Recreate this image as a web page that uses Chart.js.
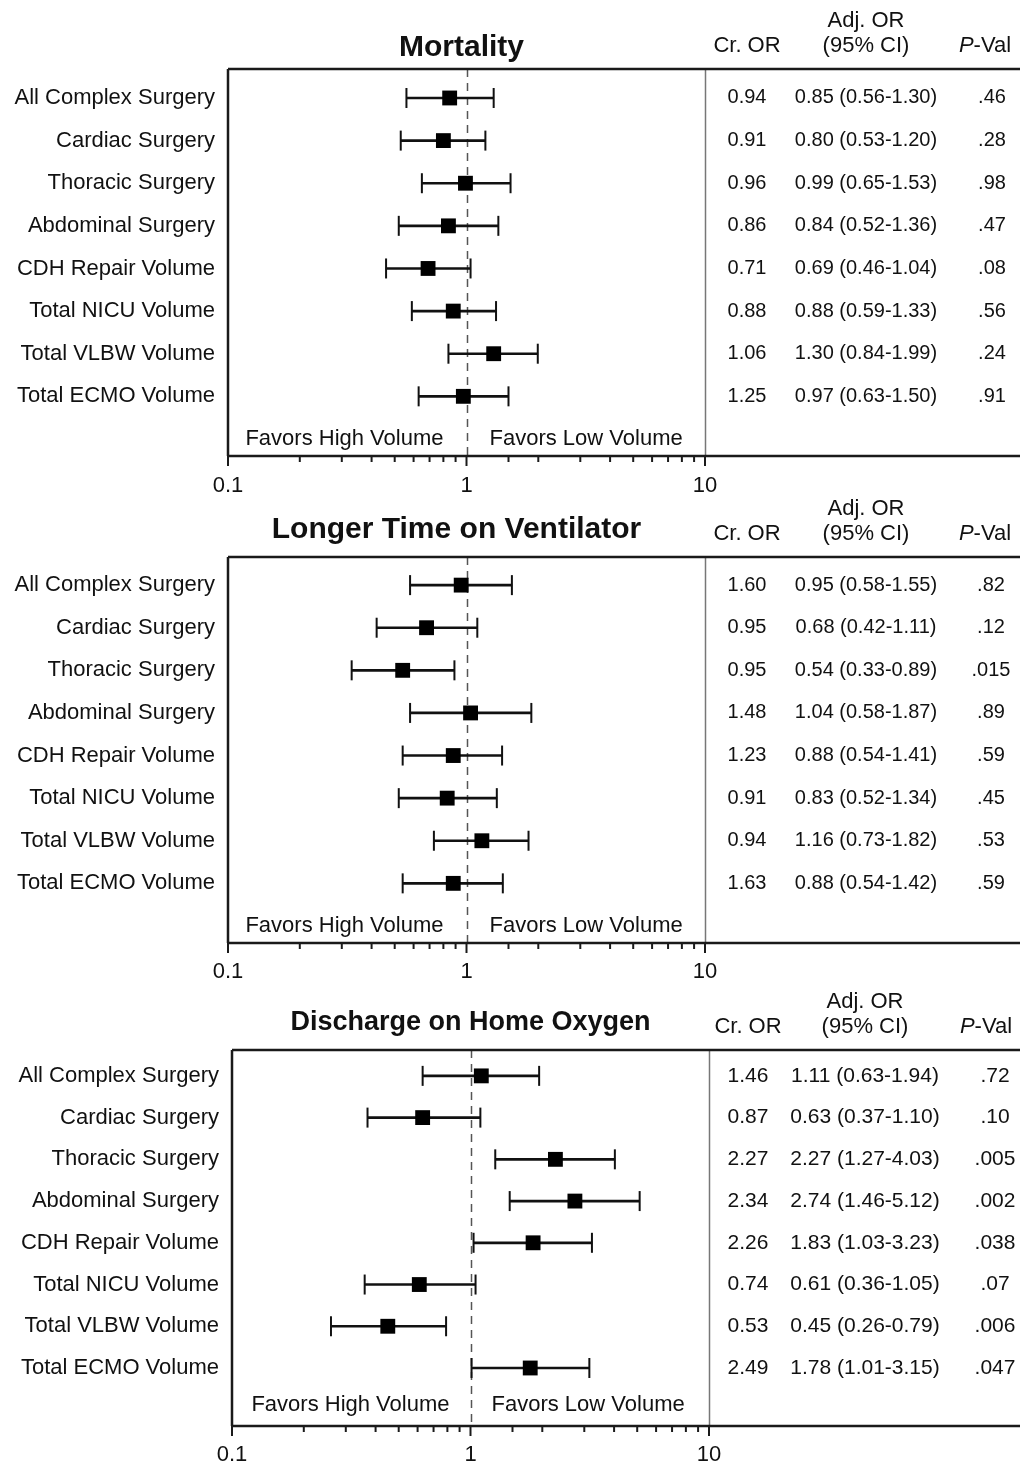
<!DOCTYPE html>
<html>
<head>
<meta charset="utf-8">
<script src="https://cdn.jsdelivr.net/npm/chart.js@4.4.1/dist/chart.umd.min.js"></script>
<style>
  body { margin: 0; background: #fff; }
  canvas { display: block; }
</style>
</head>
<body>
<canvas id="mortality" width="1020" height="498"></canvas>
<canvas id="ventilator" width="1020" height="487"></canvas>
<canvas id="oxygen" width="1020" height="481"></canvas>
<script>
// rows, same for all three panels
const categories = ['All Complex Surgery', 'Cardiac Surgery', 'Thoracic Surgery', 'Abdominal Surgery',
  'CDH Repair Volume', 'Total NICU Volume', 'Total VLBW Volume', 'Total ECMO Volume'];
const axisLabels = ['0.1', '1', '10'];

// Mortality
const mortCrude = [0.94, 0.91, 0.96, 0.86, 0.71, 0.88, 1.06, 1.25];
const mortAdj   = [0.85, 0.80, 0.99, 0.84, 0.69, 0.88, 1.30, 0.97];
const mortLow   = [0.56, 0.53, 0.65, 0.52, 0.46, 0.59, 0.84, 0.63];
const mortHigh  = [1.30, 1.20, 1.53, 1.36, 1.04, 1.33, 1.99, 1.50];
const mortP     = ['.46', '.28', '.98', '.47', '.08', '.56', '.24', '.91'];

// Longer time on ventilator
const ventCrude = [1.60, 0.95, 0.95, 1.48, 1.23, 0.91, 0.94, 1.63];
const ventAdj   = [0.95, 0.68, 0.54, 1.04, 0.88, 0.83, 1.16, 0.88];
const ventLow   = [0.58, 0.42, 0.33, 0.58, 0.54, 0.52, 0.73, 0.54];
const ventHigh  = [1.55, 1.11, 0.89, 1.87, 1.41, 1.34, 1.82, 1.42];
const ventP     = ['.82', '.12', '.015', '.89', '.59', '.45', '.53', '.59'];

// Discharge on home oxygen
const oxyCrude = [1.46, 0.87, 2.27, 2.34, 2.26, 0.74, 0.53, 2.49];
const oxyAdj   = [1.11, 0.63, 2.27, 2.74, 1.83, 0.61, 0.45, 1.78];
const oxyLow   = [0.63, 0.37, 1.27, 1.46, 1.03, 0.36, 0.26, 1.01];
const oxyHigh  = [1.94, 1.10, 4.03, 5.12, 3.23, 1.05, 0.79, 3.15];
const oxyP     = ['.72', '.10', '.005', '.002', '.038', '.07', '.006', '.047'];

const FONT = "Arial, 'Liberation Sans', sans-serif";
const INK = '#111';

const isDecade = v => Math.abs(Math.log10(v) - Math.round(Math.log10(v))) < 1e-6;

function line(ctx, x1, y1, x2, y2) {
  ctx.beginPath(); ctx.moveTo(x1, y1); ctx.lineTo(x2, y2); ctx.stroke();
}

const forestPlugin = {
  id: 'forest',
  beforeDatasetsDraw(chart, args, o) {
    const { ctx, chartArea: a, scales: { x } } = chart;
    ctx.save();
    ctx.strokeStyle = '#555';
    ctx.lineWidth = 1.5;
    ctx.setLineDash([8, 6]);
    const x1 = Math.round(x.getPixelForValue(1)) + 0.5;
    line(ctx, x1, a.top, x1, a.bottom);
    ctx.setLineDash([]);
    ctx.strokeStyle = '#777';
    const x10 = Math.round(x.getPixelForValue(10)) + 0.5;
    line(ctx, x10, a.top, x10, a.bottom);
    ctx.restore();
  },
  afterDraw(chart, args, o) {
    const { ctx, chartArea: a, scales: { x, y }, width } = chart;
    ctx.save();
    // box
    ctx.strokeStyle = '#1a1a1a';
    ctx.lineWidth = 2.5;
    line(ctx, a.left, a.top, width, a.top);
    line(ctx, a.left, a.bottom, width, a.bottom);
    line(ctx, a.left, a.top, a.left, a.bottom);
    // axis ticks below the box
    ctx.lineWidth = 2;
    x.ticks.forEach(t => {
      const px = x.getPixelForValue(t.value);
      line(ctx, px, a.bottom, px, a.bottom + (isDecade(t.value) ? 10 : 6));
    });

    ctx.fillStyle = INK;
    ctx.textBaseline = 'middle';
    // title
    ctx.textAlign = 'center';
    ctx.font = `bold ${o.titleSize}px ${FONT}`;
    ctx.fillText(o.title, (a.left + a.right) / 2 + o.titleDx, a.top + o.titleDy);

    // column headers
    ctx.font = `22px ${FONT}`;
    const cx = a.right + o.colCrude, ax = a.right + o.colAdj, px = a.right + o.colP;
    ctx.fillText('Cr. OR', cx, a.top - 23);
    ctx.fillText('Adj. OR', ax, a.top - 48);
    ctx.fillText('(95% CI)', ax, a.top - 23);
    ctx.font = `italic 22px ${FONT}`;
    const pw = ctx.measureText('P').width;
    ctx.font = `22px ${FONT}`;
    const vw = ctx.measureText('-Val').width;
    const start = a.right + o.colPHead - (pw + vw) / 2;
    ctx.textAlign = 'left';
    ctx.font = `italic 22px ${FONT}`;
    ctx.fillText('P', start, a.top - 23);
    ctx.font = `22px ${FONT}`;
    ctx.fillText('-Val', start + pw, a.top - 23);

    // table rows
    ctx.textAlign = 'center';
    ctx.font = `${o.valSize}px ${FONT}`;
    o.crude.forEach((c, i) => {
      const py = y.getPixelForValue(i);
      ctx.fillText(c.toFixed(2), cx, py);
      ctx.fillText(`${o.adj[i].toFixed(2)} (${o.low[i].toFixed(2)}-${o.high[i].toFixed(2)})`, ax, py);
      ctx.fillText(o.p[i], px, py);
    });

    // favors labels
    ctx.font = `22px ${FONT}`;
    const fy = y.getPixelForValue(o.favorsRow);
    const one = x.getPixelForValue(1);
    ctx.textAlign = 'right';
    ctx.fillText('Favors High Volume', one - o.favorsGap, fy);
    ctx.textAlign = 'left';
    ctx.fillText('Favors Low Volume', one + o.favorsGap, fy);
    ctx.restore();
  }
};

function makePanel(id, p) {
  new Chart(document.getElementById(id), {
    type: 'bar',
    plugins: [forestPlugin],
    data: {
      datasets: [
        {
          // CI whisker
          data: p.low.map((l, i) => ({ x: [l, p.high[i]], y: i })),
          backgroundColor: INK,
          barThickness: 2,
          borderWidth: 0,
          order: 3
        },
        {
          type: 'scatter',
          data: p.low.map((l, i) => ({ x: l, y: i })).concat(p.high.map((h, i) => ({ x: h, y: i }))),
          pointStyle: 'line',
          rotation: 90,
          radius: 10,
          borderColor: INK,
          borderWidth: 2,
          order: 2
        },
        {
          type: 'scatter',
          data: p.adj.map((v, i) => ({ x: v, y: i })),
          pointStyle: 'rect',
          radius: 10.5,
          backgroundColor: '#000',
          borderWidth: 0,
          order: 1
        }
      ]
    },
    options: {
      responsive: false,
      animation: false,
      indexAxis: 'y',
      layout: { padding: { top: p.padTop, right: p.padRight, bottom: 0, left: 0 } },
      scales: {
        x: {
          type: 'logarithmic',
          min: 0.1,
          max: 10,
          offset: false,
          grid: { display: false, drawTicks: false },
          border: { display: false },
          afterFit: s => { s.height = p.axisHeight; },
          ticks: {
            autoSkip: false,
            maxRotation: 0,
            padding: p.tickPad,
            color: INK,
            font: { family: FONT, size: 22 },
            callback: v => isDecade(v) ? axisLabels[Math.round(Math.log10(v)) + 1] : ''
          }
        },
        y: {
          type: 'linear',
          reverse: true,
          min: p.yMin,
          max: p.yMax,
          offset: false,
          grid: { display: false, drawTicks: false },
          border: { display: false },
          afterFit: s => { s.width = p.leftWidth; },
          afterBuildTicks: s => { s.ticks = categories.map((c, i) => ({ value: i })); },
          ticks: {
            autoSkip: false,
            padding: 13,
            color: INK,
            font: { family: FONT, size: 22 },
            callback: v => categories[v] ?? ''
          }
        }
      },
      plugins: {
        legend: { display: false },
        tooltip: { enabled: false },
        forest: {
          title: p.title, titleSize: p.titleSize, titleDx: p.titleDx, titleDy: p.titleDy,
          crude: p.crude, adj: p.adj, low: p.low, high: p.high, p: p.pv,
          colCrude: p.colCrude, colAdj: p.colAdj, colP: p.colP, colPHead: p.colPHead,
          valSize: p.valSize, favorsRow: p.favorsRow, favorsGap: p.favorsGap
        }
      }
    }
  });
}

makePanel('mortality', {
  title: 'Mortality', titleSize: 30, titleDx: -5, titleDy: -21,
  crude: mortCrude, adj: mortAdj, low: mortLow, high: mortHigh, pv: mortP,
  padTop: 69, padRight: 315, leftWidth: 228, axisHeight: 42, tickPad: 17,
  yMin: -0.68, yMax: 8.4, colCrude: 42, colAdj: 161, colP: 287, colPHead: 280,
  valSize: 20, favorsRow: 8.0, favorsGap: 23
});
makePanel('ventilator', {
  title: 'Longer Time on Ventilator', titleSize: 30, titleDx: -10, titleDy: -27,
  crude: ventCrude, adj: ventAdj, low: ventLow, high: ventHigh, pv: ventP,
  padTop: 59, padRight: 315, leftWidth: 228, axisHeight: 42, tickPad: 16,
  yMin: -0.66, yMax: 8.4, colCrude: 42, colAdj: 161, colP: 286, colPHead: 280,
  valSize: 20, favorsRow: 8.0, favorsGap: 23
});
makePanel('oxygen', {
  title: 'Discharge on Home Oxygen', titleSize: 27, titleDx: 0, titleDy: -27,
  crude: oxyCrude, adj: oxyAdj, low: oxyLow, high: oxyHigh, pv: oxyP,
  padTop: 65, padRight: 311, leftWidth: 232, axisHeight: 40, tickPad: 16,
  yMin: -0.62, yMax: 8.39, colCrude: 39, colAdj: 156, colP: 286, colPHead: 277,
  valSize: 21, favorsRow: 7.89, favorsGap: 21
});
</script>
</body>
</html>
